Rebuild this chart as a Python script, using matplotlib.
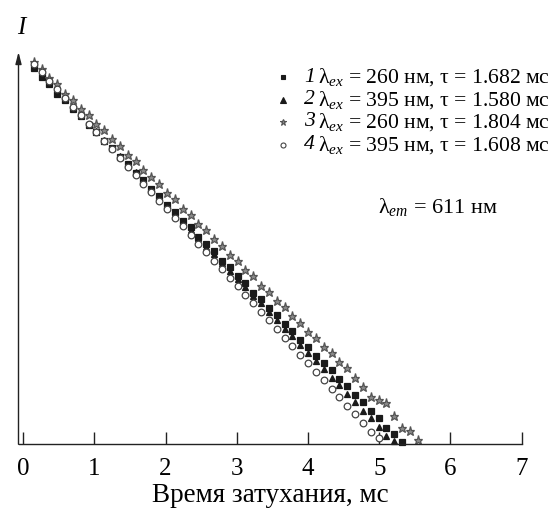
import matplotlib
matplotlib.use("Agg")
import matplotlib.pyplot as plt

plt.rcParams['font.family'] = ['Liberation Serif', 'DejaVu Serif']
plt.rcParams['mathtext.fontset'] = 'custom'
plt.rcParams['mathtext.rm'] = 'Liberation Serif'
plt.rcParams['mathtext.it'] = 'Liberation Serif:italic'

# time grid, ms
t = [0.15, 0.26, 0.37, 0.48, 0.59, 0.70, 0.81, 0.92, 1.03, 1.14,
     1.25, 1.36, 1.47, 1.58, 1.69, 1.80, 1.91, 2.02, 2.13, 2.24,
     2.35, 2.46, 2.57, 2.68, 2.79, 2.90, 3.01, 3.12, 3.23, 3.34,
     3.45, 3.56, 3.67, 3.78, 3.89, 4.00, 4.11, 4.22, 4.33, 4.44,
     4.55, 4.66, 4.77, 4.88, 4.99, 5.10, 5.21, 5.32, 5.43, 5.54]

# log intensity (arbitrary units)
y1 = [3.76, 3.67, 3.60, 3.50, 3.44, 3.35, 3.28, 3.19, 3.12, 3.03,
      2.96, 2.87, 2.80, 2.71, 2.64, 2.55, 2.48, 2.39, 2.32, 2.23,
      2.17, 2.07, 2.00, 1.93, 1.83, 1.77, 1.68, 1.61, 1.51, 1.45,
      1.36, 1.29, 1.20, 1.13, 1.04, 0.97, 0.88, 0.81, 0.74, 0.65,
      0.58, 0.49, 0.42, 0.33, 0.26, 0.16, 0.10, 0.02]
y2 = [3.78, 3.70, 3.61, 3.54, 3.45, 3.37, 3.29, 3.20, 3.13, 3.04,
      2.96, 2.88, 2.79, 2.72, 2.63, 2.55, 2.47, 2.39, 2.30, 2.23,
      2.14, 2.06, 1.97, 1.90, 1.81, 1.73, 1.65, 1.57, 1.48, 1.41,
      1.32, 1.24, 1.15, 1.08, 0.99, 0.91, 0.83, 0.75, 0.66, 0.59,
      0.50, 0.42, 0.33, 0.26, 0.17, 0.08, 0.03]
y3 = [3.82, 3.75, 3.66, 3.60, 3.50, 3.44, 3.35, 3.29, 3.20, 3.14,
      3.05, 2.98, 2.89, 2.83, 2.74, 2.67, 2.60, 2.51, 2.45, 2.35,
      2.29, 2.20, 2.14, 2.05, 1.98, 1.89, 1.83, 1.74, 1.68, 1.58,
      1.52, 1.43, 1.37, 1.28, 1.21, 1.12, 1.06, 0.97, 0.91, 0.82,
      0.76, 0.66, 0.57, 0.47, 0.44, 0.41, 0.28, 0.16, 0.13, 0.04]
y4 = [3.80, 3.72, 3.63, 3.55, 3.46, 3.37, 3.29, 3.20, 3.12, 3.03,
      2.95, 2.86, 2.77, 2.69, 2.60, 2.52, 2.43, 2.35, 2.26, 2.18,
      2.09, 2.00, 1.92, 1.83, 1.75, 1.66, 1.58, 1.49, 1.41, 1.32,
      1.24, 1.15, 1.06, 0.98, 0.89, 0.81, 0.72, 0.64, 0.55, 0.47,
      0.38, 0.30, 0.21, 0.12, 0.06]

series_numbers = ['1', '2', '3', '4']
labels = [r"λ$_{\mathit{ex}}$ = 260 нм, τ = 1.682 мс",
          r"λ$_{\mathit{ex}}$ = 395 нм, τ = 1.580 мс",
          r"λ$_{\mathit{ex}}$ = 260 нм, τ = 1.804 мс",
          r"λ$_{\mathit{ex}}$ = 395 нм, τ = 1.608 мс"]
xticks = [0, 1, 2, 3, 4, 5, 6, 7]

styles = [dict(marker='s', mfc='#1a1a1a', mec='#1a1a1a', ms=4.6),
          dict(marker='^', mfc='#1a1a1a', mec='#1a1a1a', ms=5.0),
          dict(marker='*', mfc='#8a8a8a', mec='#555555', ms=6.8),
          dict(marker='o', mfc='white', mec='#444444', ms=4.8)]

W, H = 556, 508
fig = plt.figure(figsize=(W/100, H/100), dpi=100)
ax = fig.add_axes([18.5/W, 1-444.3/H, (521.7-18.5)/W, (444.3-52)/H])
ax.set_xlim(-0.065, 7.0)
ax.set_ylim(0, 3.923)

for ys, st in zip([y1, y2, y3, y4], styles):
    ax.plot(t[:len(ys)], ys, ls='none', mew=0.9, clip_on=False, **st)

for s in ['top', 'right', 'left']:
    ax.spines[s].set_visible(False)
ax.spines['bottom'].set_linewidth(1.0)
ax.spines['bottom'].set_color('#222222')
ax.annotate('', xy=(0, 1.0), xycoords='axes fraction', xytext=(0, 0),
            textcoords='axes fraction',
            arrowprops=dict(arrowstyle='-|>,head_length=0.7,head_width=0.18',
                            color='#222222', lw=1.0, shrinkA=0, shrinkB=0))

ax.set_yticks([])
ax.set_xticks(xticks)
ax.set_xticklabels([str(v) for v in xticks])
ax.tick_params(axis='x', direction='in', length=9, width=1.0, color='#222222',
               pad=10, labelsize=18)
ax.set_xlabel('Время затухания, мс', fontsize=19.5, labelpad=2)

fig.text(21/W, 1-28/H, 'I', fontsize=18, style='italic', ha='center', va='center')

# legend drawn manually
row_y = [77, 100, 122, 145]
leg_styles = [dict(marker='s', ms=3.4), dict(marker='^', ms=3.8),
              dict(marker='*', ms=5.0), dict(marker='o', ms=3.6)]
for yy, num, lab, st, ls in zip(row_y, series_numbers, labels, styles, leg_styles):
    s2 = dict(st)
    s2.update(ls)
    fig.add_artist(plt.Line2D([283/W], [1-yy/H], transform=fig.transFigure,
                              ls='none', mew=0.8, **s2))
    fig.text(304/W, 1-yy/H, num, fontsize=15.6, style='italic', ha='left', va='center')
    fig.text(318/W, 1-yy/H, lab, fontsize=15.6, ha='left', va='center')

fig.text(438/W, 1-207/H, r"λ$_{\mathit{em}}$ = 611 нм", fontsize=16,
         ha='center', va='center')

fig.savefig('out.png', dpi=100)
